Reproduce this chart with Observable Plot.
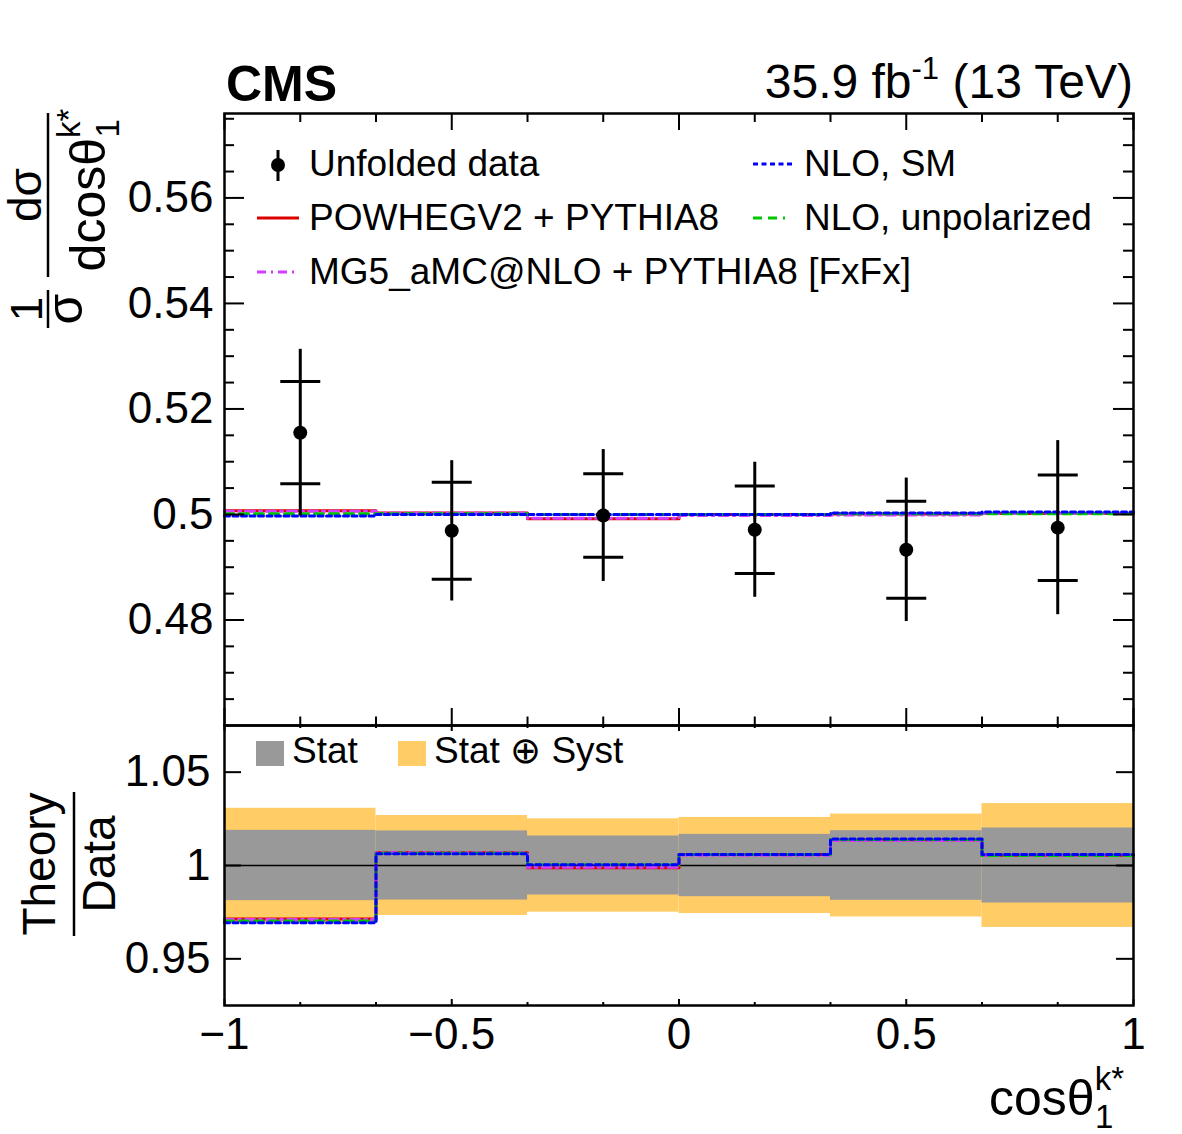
<!DOCTYPE html>
<html><head><meta charset="utf-8">
<script src="https://cdn.jsdelivr.net/npm/d3@7"></script>
<script src="https://cdn.jsdelivr.net/npm/@observablehq/plot@0.6"></script>
<style>
body{margin:0;background:#fff;}
#fig{position:relative;width:1182px;height:1134px;overflow:hidden;background:#fff;}
#fig svg{position:absolute;left:0;}
</style></head><body><div id="fig"></div>
<script>
// ---------- data ----------
const binEdges = [-1, -0.6667, -0.3333, 0, 0.3333, 0.6667, 1];
const binCenters = [-0.8333, -0.5, -0.1667, 0.1667, 0.5, 0.8333];
const dataValues = [0.5155, 0.4969, 0.4998, 0.4971, 0.4933, 0.4975];
const statErrors = [0.0097, 0.0092, 0.0079, 0.0083, 0.0092, 0.0100];
const totalErrors = [0.0158, 0.0133, 0.0125, 0.0128, 0.0136, 0.0165];
const powhegValues = [0.5007, 0.5003, 0.4992, 0.5000, 0.5001, 0.5002];
const mg5Values = [0.5006, 0.5003, 0.4993, 0.4998, 0.4999, 0.5002];
const nloSMValues = [0.4997, 0.5000, 0.5000, 0.5000, 0.5003, 0.50045];
const nloUnpolValues = [0.50015, 0.50015, 0.5000, 0.5000, 0.50015, 0.50015];
const xMajorTicks = [-1, -0.5, 0, 0.5, 1];
const xMinorTicks = [-0.8333, -0.6667, -0.3333, -0.1667, 0.1667, 0.3333, 0.6667, 0.8333];
const yTopTicks = [0.48, 0.50, 0.52, 0.54, 0.56];
const yTopMinorTicks = [0.465, 0.47, 0.475, 0.485, 0.49, 0.495, 0.505, 0.51, 0.515, 0.525, 0.53, 0.535, 0.545, 0.55, 0.555, 0.565, 0.57, 0.575];
const yBotTicks = [0.95, 1, 1.05];

// ---------- styles ----------
const FONT = "'Liberation Sans', Arial, Helvetica, sans-serif";
const COL = {powheg: "#dd0000", mg5: "#d43cff", unpol: "#00c800", sm: "#0000ff", stat: "#999999", tot: "#ffcc66"};
const DASH = {mg5: "9,5,2,5", unpol: "9,6", sm: "5,3.5"};
const W = 1182, TOP_H = 725, BOT_H = 409;
const ML = 224, MR = 49, TOP_MT = 113, BOT_MB = 129;
const topFrameH = TOP_H - TOP_MT, botFrameH = BOT_H - BOT_MB, frameW = W - ML - MR;
const fmt = d3.format("~g");

const steps = vals => binEdges.map((e, i) => ({x: e, y: vals[Math.min(i, vals.length - 1)]}));
const ratio = vals => vals.map((v, i) => v / dataValues[i]);
const points = binCenters.map((c, i) => ({x: c, v: dataValues[i], stat: statErrors[i], tot: totalErrors[i]}));
const caps = points.flatMap(p => [{x: p.x, y: p.v - p.stat}, {x: p.x, y: p.v + p.stat}]);
const bands = binCenters.map((c, i) => ({
  x1: binEdges[i], x2: binEdges[i + 1],
  s1: 1 - statErrors[i] / dataValues[i], s2: 1 + statErrors[i] / dataValues[i],
  t1: 1 - totalErrors[i] / dataValues[i], t2: 1 + totalErrors[i] / dataValues[i]
}));
const hbar = {draw(ctx, size) { const r = Math.sqrt(size / Math.PI); ctx.moveTo(-r, 0); ctx.lineTo(r, 0); }};

function frameTicks(fh, xMaj, xMin, xMajBot, xMinBot, yMaj, yMajLen, yMin, yMinLen) {
  const t = {stroke: "black", strokeWidth: 2};
  const m = [
    Plot.tickX(xMajorTicks, {...t, insetBottom: fh - xMaj}),
    Plot.tickX(xMinorTicks, {...t, insetBottom: fh - xMin}),
    Plot.tickX(xMajorTicks, {...t, insetTop: fh - xMajBot}),
    Plot.tickX(xMinorTicks, {...t, insetTop: fh - xMinBot}),
    Plot.tickY(yMaj, {...t, insetRight: frameW - yMajLen}),
    Plot.tickY(yMaj, {...t, insetLeft: frameW - yMajLen})
  ];
  if (yMin) {
    m.push(Plot.tickY(yMin, {...t, insetRight: frameW - yMinLen}));
    m.push(Plot.tickY(yMin, {...t, insetLeft: frameW - yMinLen}));
  }
  return m;
}

function theoryLines(f) {
  return [
    Plot.line(steps(f(powhegValues)), {x: "x", y: "y", curve: "step-after", stroke: COL.powheg, strokeWidth: 3}),
    Plot.line(steps(f(mg5Values)), {x: "x", y: "y", curve: "step-after", stroke: COL.mg5, strokeWidth: 3, strokeDasharray: DASH.mg5}),
    Plot.line(steps(f(nloUnpolValues)), {x: "x", y: "y", curve: "step-after", stroke: COL.unpol, strokeWidth: 3, strokeDasharray: DASH.unpol}),
    Plot.line(steps(f(nloSMValues)), {x: "x", y: "y", curve: "step-after", stroke: COL.sm, strokeWidth: 3, strokeDasharray: DASH.sm})
  ];
}

// ---------- top panel ----------
const topPlot = Plot.plot({
  width: W, height: TOP_H,
  marginTop: TOP_MT, marginBottom: 0, marginLeft: ML, marginRight: MR,
  style: {fontFamily: FONT, background: "transparent", overflow: "visible"},
  x: {domain: [-1, 1], axis: null},
  y: {domain: [0.46, 0.576], label: null},
  marks: [
    ...theoryLines(v => v),
    Plot.ruleX(points, {x: "x", y1: d => d.v - d.tot, y2: d => d.v + d.tot, stroke: "black", strokeWidth: 3}),
    Plot.dot(caps, {x: "x", y: "y", symbol: hbar, r: 20, stroke: "black", fill: "none", strokeWidth: 3}),
    Plot.dot(points, {x: "x", y: "v", r: 7, fill: "black", stroke: "none"}),
    ...frameTicks(topFrameH, 17, 9, 17, 8.5, yTopTicks, 20, yTopMinorTicks, 10),
    Plot.axisY(yTopTicks, {tickSize: 0, tickPadding: 11, fontSize: 44, fill: "black", tickFormat: fmt, label: null}),
    Plot.frame({stroke: "black", strokeWidth: 2.5})
  ]
});

// ---------- bottom panel ----------
const botPlot = Plot.plot({
  width: W, height: BOT_H,
  marginTop: 0, marginBottom: BOT_MB, marginLeft: ML, marginRight: MR,
  style: {fontFamily: FONT, background: "transparent", overflow: "visible"},
  x: {domain: [-1, 1], label: null},
  y: {domain: [0.925, 1.075], label: null},
  marks: [
    Plot.rect(bands, {x1: "x1", x2: "x2", y1: "t1", y2: "t2", fill: COL.tot}),
    Plot.rect(bands, {x1: "x1", x2: "x2", y1: "s1", y2: "s2", fill: COL.stat}),
    Plot.ruleY([1], {stroke: "black", strokeWidth: 1.5}),
    ...theoryLines(ratio),
    ...frameTicks(botFrameH, 6, 3, 6, 3, yBotTicks, 17, null, 0),
    Plot.axisY(yBotTicks, {tickSize: 0, tickPadding: 14, fontSize: 44, fill: "black", tickFormat: fmt, label: null}),
    Plot.axisX(xMajorTicks, {tickSize: 0, tickPadding: 12, fontSize: 44, fill: "black", tickFormat: fmt, label: null}),
    Plot.frame({stroke: "black", strokeWidth: 2.5})
  ]
});

const fig = document.getElementById("fig");
topPlot.style.top = "0px";
botPlot.style.top = TOP_H + "px";
fig.appendChild(topPlot);
fig.appendChild(botPlot);

// ---------- overlay: titles, axis titles, legends ----------
const ov = d3.create("svg").attr("width", W).attr("height", 1134)
  .style("top", "0px").style("pointer-events", "none")
  .attr("font-family", FONT).attr("fill", "black");

// CMS + luminosity
ov.append("text").attr("x", 226).attr("y", 101).attr("font-size", 50).attr("font-weight", "bold").text("CMS");
const lumi = ov.append("text").attr("x", 1133).attr("y", 98).attr("font-size", 48).attr("text-anchor", "end");
lumi.append("tspan").text("35.9 fb");
lumi.append("tspan").attr("font-size", 31).attr("dy", -19).text("-1");
lumi.append("tspan").attr("dy", 19).text(" (13 TeV)");

// top legend
const lg = ov.append("g");
lg.append("line").attr("x1", 278).attr("x2", 278).attr("y1", 150).attr("y2", 181).attr("stroke", "black").attr("stroke-width", 3);
lg.append("circle").attr("cx", 278).attr("cy", 165).attr("r", 7);
const legLine = (x1, x2, y, col, dash) => lg.append("line").attr("x1", x1).attr("x2", x2).attr("y1", y).attr("y2", y)
  .attr("stroke", col).attr("stroke-width", 3).attr("stroke-dasharray", dash || null);
legLine(257, 299, 218, COL.powheg);
legLine(257, 299, 272, COL.mg5, DASH.mg5);
legLine(753, 795, 164, COL.sm, DASH.sm);
legLine(753, 785, 218, COL.unpol, DASH.unpol);
const legText = (x, y, s) => lg.append("text").attr("x", x).attr("y", y).attr("font-size", 37).text(s);
legText(309, 176, "Unfolded data");
legText(309, 230, "POWHEGV2 + PYTHIA8");
legText(309, 284, "MG5_aMC@NLO + PYTHIA8 [FxFx]");
legText(804, 176, "NLO, SM");
legText(804, 230, "NLO, unpolarized");

// bottom legend
lg.append("rect").attr("x", 256).attr("y", 741).attr("width", 28).attr("height", 25).attr("fill", COL.stat);
legText(292, 763, "Stat");
lg.append("rect").attr("x", 398).attr("y", 741).attr("width", 28).attr("height", 25).attr("fill", COL.tot);
legText(434, 763, "Stat \u2295 Syst");

// x-axis title
const xt = ov.append("text").attr("x", 1124).attr("y", 1115).attr("font-size", 50).attr("text-anchor", "end");
xt.append("tspan").text("cos\u03b8");
xt.append("tspan").attr("font-size", 33).attr("dy", -25).text("k*");
xt.append("tspan").attr("font-size", 33).attr("dx", -29).attr("dy", 38).text("1");

// top y-axis title (rotated)
const yl = ov.append("g").attr("transform", "translate(48,212) rotate(-90)");
yl.append("text").attr("x", -97).attr("y", -6).attr("font-size", 44).attr("text-anchor", "middle").text("1");
yl.append("line").attr("x1", -116).attr("x2", -78).attr("y1", 0).attr("y2", 0).attr("stroke", "black").attr("stroke-width", 2.5);
yl.append("text").attr("x", -97).attr("y", 34).attr("font-size", 50).attr("text-anchor", "middle").text("\u03c3");
yl.append("text").attr("x", 17).attr("y", -7).attr("font-size", 46).attr("text-anchor", "middle").text("d\u03c3");
yl.append("line").attr("x1", -65).attr("x2", 99).attr("y1", 0).attr("y2", 0).attr("stroke", "black").attr("stroke-width", 2.5);
const den = yl.append("text").attr("x", 22).attr("y", 57).attr("font-size", 50).attr("text-anchor", "middle");
den.append("tspan").text("dcos\u03b8");
den.append("tspan").attr("font-size", 33).attr("dy", -25).text("k*");
den.append("tspan").attr("font-size", 33).attr("dx", -29).attr("dy", 39).text("1");

// bottom y-axis title (rotated)
const rl = ov.append("g").attr("transform", "translate(74,864) rotate(-90)");
rl.append("text").attr("x", 0).attr("y", -19).attr("font-size", 46).attr("text-anchor", "middle").text("Theory");
rl.append("line").attr("x1", -72).attr("x2", 72).attr("y1", 0).attr("y2", 0).attr("stroke", "black").attr("stroke-width", 2.5);
rl.append("text").attr("x", 0).attr("y", 41).attr("font-size", 46).attr("text-anchor", "middle").text("Data");

fig.appendChild(ov.node());
</script></body></html>
